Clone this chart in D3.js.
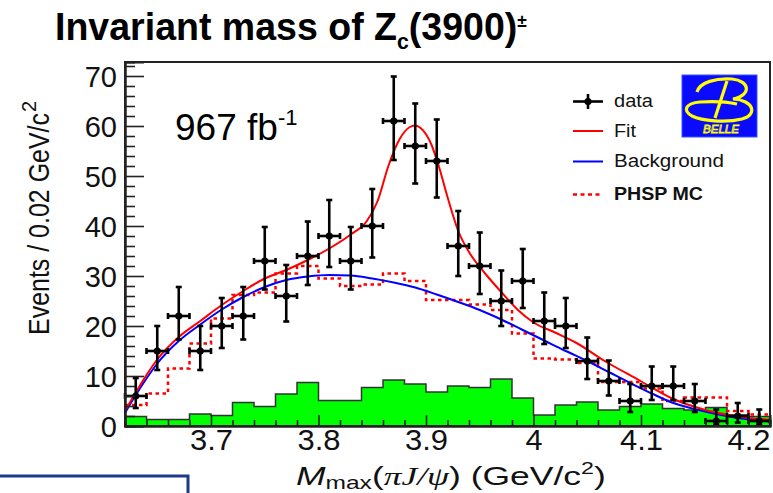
<!DOCTYPE html>
<html><head><meta charset="utf-8">
<script src="https://cdn.jsdelivr.net/npm/d3@7"></script>
<style>body{margin:0;background:#fff}svg{display:block}</style>
</head><body><svg id="c" width="773" height="493"></svg>
<script>
// ---------------- data ----------------
const binCenters = [3.63,3.65,3.67,3.69,3.71,3.73,3.75,3.77,3.79,3.81,3.83,3.85,3.87,3.89,3.91,3.93,3.95,3.97,3.99,4.01,4.03,4.05,4.07,4.09,4.11,4.13,4.15,4.17,4.19,4.21];
const binHalfWidth = 0.01;
const dataCounts = [6,15,22,15,20,22,33,26,34,38,33,40,61,56,53,36,32,25,29,21,20,13,9,5,8,8,5,1,2,1];
const errLow  = [2.4,3.8,4.7,3.8,4.4,4.7,5.7,5.1,5.8,6.2,5.7,6.3,7.8,7.5,7.3,6.0,5.6,5.0,5.4,4.6,4.4,3.6,2.9,2.2,2.8,2.8,2.2,0.8,1.3,0.8];
const errHigh = [3.6,5.0,5.8,5.0,5.6,5.8,6.8,6.2,6.9,7.2,6.8,7.4,8.9,8.5,8.3,7.0,6.7,6.1,6.4,5.7,5.6,4.7,4.1,3.4,3.9,3.9,3.4,2.3,2.6,2.3];
const greenHist = [1.9,1.3,1.3,2.4,2.1,4.7,3.9,6.4,8.7,5.1,5.1,7.7,9.2,8.4,6.8,8.0,7.7,9.4,5.6,2.2,4.2,4.8,3.2,3.9,4.4,3.5,3.2,3.7,2.2,1.9];
const phspHist  = [4.2,6.5,11.5,16.5,21.5,26.2,26.7,30.5,32.0,29.5,28.0,28.3,30.5,29.0,25.2,25.2,24.3,23.2,18.5,13.5,13.3,12.6,8.8,8.8,7.5,5.0,5.7,5.7,3.0,2.3];
const fitX = [3.62,3.63,3.64,3.65,3.67,3.69,3.71,3.73,3.75,3.77,3.79,3.81,3.83,3.845,3.855,3.865,3.875,3.885,3.89,3.895,3.905,3.912,3.92,3.93,3.94,3.955,3.97,3.985,4.00,4.02,4.04,4.067,4.098,4.129,4.16,4.19,4.22];
const fitY = [3.0,6.7,10.2,13.3,17.8,21.0,24.2,27.0,29.5,31.2,33.2,35.5,38.3,41.0,45.0,52.0,57.2,59.8,60.1,59.6,56.3,51.9,45.8,39.0,34.8,30.5,26.8,23.3,20.7,18.7,16.6,12.9,9.2,5.5,3.2,1.9,1.2];
const bkgX = [3.62,3.63,3.64,3.65,3.67,3.69,3.71,3.73,3.75,3.77,3.79,3.81,3.83,3.85,3.87,3.89,3.91,3.93,3.95,3.97,3.99,4.01,4.03,4.05,4.07,4.09,4.11,4.13,4.15,4.17,4.19,4.21,4.22];
const bkgY = [2.6,6.2,9.5,12.5,17.0,20.3,23.3,25.8,27.8,29.2,29.9,30.2,30.1,29.5,28.7,27.7,26.3,24.8,23.2,21.3,19.2,17.1,15.0,13.0,10.8,8.6,6.5,4.6,3.4,2.4,1.6,1.1,0.9];
const xMajorTicks = [3.7,3.8,3.9,4.0,4.1,4.2];
const xTickLabels = ["3.7","3.8","3.9","4","4.1","4.2"];
const xMinorTicks = [3.62,3.64,3.66,3.68,3.72,3.74,3.76,3.78,3.82,3.84,3.86,3.88,3.92,3.94,3.96,3.98,4.02,4.04,4.06,4.08,4.12,4.14,4.16,4.18,4.22];
const yMajorTicks = [0,10,20,30,40,50,60,70];
const yTickLabels = ["0","10","20","30","40","50","60","70"];
const yMinorTicks = [2,4,6,8,12,14,16,18,22,24,26,28,32,34,36,38,42,44,46,48,52,54,56,58,62,64,66,68,72];
const legendLabels = ["data","Fit","Background","PHSP MC"];
const xDomain = [3.62,4.22];
const yDomain = [0,72.8];

// ---------------- drawing ----------------
const svg = d3.select("#c");
const FONT = "'Liberation Sans', Arial, Helvetica, sans-serif";
const L = 125, R = 770, T = 62, B = 426;
const x = d3.scaleLinear().domain(xDomain).range([L, R]);
const y = d3.scaleLinear().domain(yDomain).range([B, T]);

// slide decoration box
svg.append("rect").attr("x",-5).attr("y",476).attr("width",193).attr("height",30)
  .attr("fill","#fff").attr("stroke","#1e3a8a").attr("stroke-width",3);

// title (single text, scaled to the reference width)
const title = svg.append("text").attr("font-family","'Liberation Sans Narrow','Arial Narrow',"+FONT)
  .attr("font-weight","bold").attr("font-size",39).attr("fill","#000");
title.append("tspan").text("Invariant mass of Z");
title.append("tspan").attr("font-size",22).attr("dy",9).text("c");
title.append("tspan").attr("dy",-9).text("(3900)");
title.append("tspan").attr("font-size",18).attr("dy",-13).text("±");
const tw = title.node().getComputedTextLength();
title.attr("transform",`translate(55,40) scale(${472/tw},1)`);

// histogram helper: step points over bin edges
function stepPts(vals){
  const pts = [];
  vals.forEach((v,i)=>{
    const lo = binCenters[i]-binHalfWidth, hi = binCenters[i]+binHalfWidth;
    pts.push([lo,v]); pts.push([hi,v]);
  });
  return pts;
}
// green histogram
const gPts = stepPts(greenHist);
const area = d3.area().x(d=>x(d[0])).y0(y(0)).y1(d=>y(d[1]));
svg.append("path").attr("d",area(gPts)).attr("fill","#00ff00").attr("stroke","none");
const gLine = [[xDomain[0],0]].concat(gPts).concat([[xDomain[1],0]]);
svg.append("path").attr("d",d3.line().x(d=>x(d[0])).y(d=>y(d[1]))(gLine))
  .attr("fill","none").attr("stroke","#333").attr("stroke-width",1.5);

// PHSP MC dotted
svg.append("path").attr("d",d3.line().x(d=>x(d[0])).y(d=>y(d[1]))(stepPts(phspHist)))
  .attr("fill","none").attr("stroke","#ff0000").attr("stroke-width",2.5).attr("stroke-dasharray","3.5,3.5");

// background & fit curves
const cl = (xs,ys)=>d3.line().x((d,i)=>x(xs[i])).y((d,i)=>y(ys[i])).curve(d3.curveMonotoneX)(xs);
svg.append("path").attr("d",cl(bkgX,bkgY)).attr("fill","none").attr("stroke","#0000ff").attr("stroke-width",2);
svg.append("path").attr("d",cl(fitX,fitY)).attr("fill","none").attr("stroke","#ff0000").attr("stroke-width",2);

// data points
const dG = svg.append("g").attr("stroke","#000").attr("stroke-width",2.6).attr("fill","#000");
binCenters.forEach((c,i)=>{
  const v = dataCounts[i];
  const cx = x(c), cy = y(v);
  const yt = y(v+errHigh[i]), yb = y(Math.max(0,v-errLow[i]));
  const xl = x(c-binHalfWidth), xr = x(c+binHalfWidth);
  dG.append("line").attr("x1",cx).attr("x2",cx).attr("y1",yt).attr("y2",yb);
  dG.append("line").attr("x1",xl).attr("x2",xr).attr("y1",cy).attr("y2",cy);
  dG.append("line").attr("x1",cx-3).attr("x2",cx+3).attr("y1",yt).attr("y2",yt);
  dG.append("line").attr("x1",cx-3).attr("x2",cx+3).attr("y1",yb).attr("y2",yb);
  dG.append("line").attr("x1",xl).attr("x2",xl).attr("y1",cy-3).attr("y2",cy+3);
  dG.append("line").attr("x1",xr).attr("x2",xr).attr("y1",cy-3).attr("y2",cy+3);
  dG.append("circle").attr("cx",cx).attr("cy",cy).attr("r",3.6).attr("stroke","none");
});

// frame
svg.append("rect").attr("x",L).attr("y",T).attr("width",R-L).attr("height",B-T)
  .attr("fill","none").attr("stroke","#222").attr("stroke-width",2);

// axes (ticks drawn inward, like ROOT)
const xAx = svg.append("g").attr("transform",`translate(0,${B})`)
  .call(d3.axisBottom(x).tickValues(xMajorTicks).tickSize(-11).tickPadding(24)
        .tickFormat((d,i)=>xTickLabels[i]));
svg.append("g").attr("transform",`translate(0,${B})`)
  .call(d3.axisBottom(x).tickValues(xMinorTicks).tickSize(-6).tickFormat(""));
const yAx = svg.append("g").attr("transform",`translate(${L},0)`)
  .call(d3.axisLeft(y).tickValues(yMajorTicks).tickSize(-19).tickPadding(8)
        .tickFormat((d,i)=>yTickLabels[i]));
svg.append("g").attr("transform",`translate(${L},0)`)
  .call(d3.axisLeft(y).tickValues(yMinorTicks).tickSize(-10).tickFormat(""));
svg.selectAll(".domain").attr("stroke","#222").attr("stroke-width",2);
svg.selectAll(".tick line").attr("stroke","#222").attr("stroke-width",1.6);
xAx.selectAll("text").attr("font-family",FONT).attr("font-size",29).attr("fill","#111").attr("dy","0")
  .attr("textLength",(d,i)=>xTickLabels[i].length===1?17:43).attr("lengthAdjust","spacingAndGlyphs");
yAx.selectAll("text").attr("font-family",FONT).attr("font-size",29).attr("fill","#111").attr("dy","0.36em");

// y axis title (rotated)
const ytG = svg.append("g").attr("transform","translate(49,335) rotate(-90)")
  .attr("font-family",FONT).attr("fill","#111");
ytG.append("text").attr("x",0).attr("y",0).attr("font-size",30)
  .attr("textLength",222).attr("lengthAdjust","spacingAndGlyphs").text("Events / 0.02 GeV/c");
ytG.append("text").attr("x",223).attr("y",-13).attr("font-size",20).text("2");

// x axis title (horizontally stretched like the reference)
const xt = svg.append("text").attr("font-family",FONT).attr("font-size",26).attr("fill","#111");
xt.append("tspan").attr("font-style","italic").text("M");
xt.append("tspan").attr("font-size",18).attr("dy",4).text("max");
xt.append("tspan").attr("dy",-4).text("(");
xt.append("tspan").attr("font-style","italic").attr("font-family","'Liberation Serif','Times New Roman',serif").text("πJ/ψ");
xt.append("tspan").text(") (GeV/c");
xt.append("tspan").attr("font-size",17).attr("dy",-11).text("2");
xt.append("tspan").attr("dy",11).text(")");
const xw = xt.node().getComputedTextLength();
xt.attr("transform",`translate(296,485) scale(${310/xw},1)`);

// luminosity
const lum = svg.append("text").attr("x",175).attr("y",140).attr("font-family",FONT).attr("font-size",37).attr("fill","#000");
lum.append("tspan").text("967 fb");
lum.append("tspan").attr("font-size",22).attr("dy",-15).text("-1");

// legend
const lx0 = 573, lx1 = 603, ltx = 614;
const lg = svg.append("g").attr("font-family",FONT).attr("fill","#111");
lg.append("line").attr("x1",lx0).attr("x2",lx1).attr("y1",101.5).attr("y2",101.5).attr("stroke","#000").attr("stroke-width",2.6);
lg.append("line").attr("x1",588).attr("x2",588).attr("y1",94).attr("y2",109).attr("stroke","#000").attr("stroke-width",2.6);
lg.append("circle").attr("cx",588).attr("cy",101.5).attr("r",3.6).attr("fill","#000");
lg.append("line").attr("x1",lx0).attr("x2",lx1).attr("y1",131).attr("y2",131).attr("stroke","#ff0000").attr("stroke-width",2);
lg.append("line").attr("x1",lx0).attr("x2",lx1).attr("y1",161.5).attr("y2",161.5).attr("stroke","#0000ff").attr("stroke-width",2);
lg.append("line").attr("x1",lx0).attr("x2",lx1).attr("y1",194.5).attr("y2",194.5).attr("stroke","#ff0000").attr("stroke-width",2.5).attr("stroke-dasharray","4,3.5");
const legY = [107,137,167,200], legW = [39,22,110,89];
legendLabels.forEach((t,i)=>{
  lg.append("text").attr("x",ltx).attr("y",legY[i]).attr("font-size",17.5)
    .attr("font-weight", i===3?"bold":"normal")
    .attr("textLength",legW[i]).attr("lengthAdjust","spacingAndGlyphs").text(t);
});

// Belle logo
const lo = svg.append("g");
lo.append("rect").attr("x",682).attr("y",75).attr("width",75).attr("height",62).attr("fill","#0a0aff").attr("stroke","#3355ff").attr("stroke-width",1);
lo.append("path").attr("d","M697,92 C700,82 716,78 732,79 C750,81 752,95 733,99 C754,100 758,115 742,119 C726,123 702,121 692,116 C682,110 686,103 700,102 C714,101 728,102 737,104")
  .attr("fill","none").attr("stroke","#ffff00").attr("stroke-width",3.2);
lo.append("path").attr("d","M727,81 L715,118").attr("fill","none").attr("stroke","#ffff00").attr("stroke-width",3.2);
lo.append("text").attr("x",721).attr("y",133).attr("text-anchor","middle").attr("font-family",FONT)
  .attr("font-style","italic").attr("font-size",11).attr("fill","none").attr("stroke","#ffff00").attr("stroke-width",0.8)
  .attr("textLength",36).attr("lengthAdjust","spacingAndGlyphs").text("BELLE");
</script></body></html>
